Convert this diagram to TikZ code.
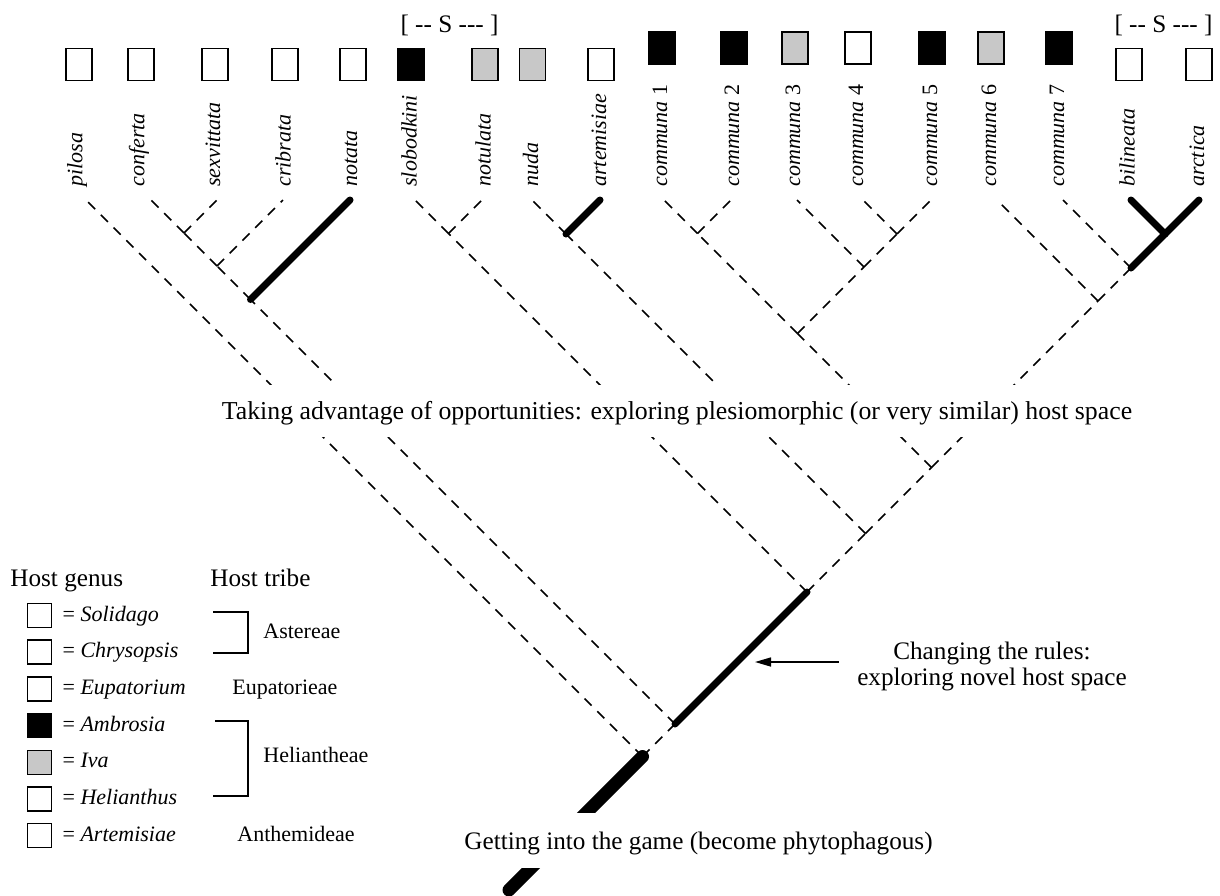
\documentclass[tikz,border=0pt]{standalone}
\usepackage{fontspec}
\setmainfont{Liberation Serif}
\usepackage{tikz}
\definecolor{ivagrey}{RGB}{200, 200, 200}
\usetikzlibrary{
  arrows.meta,
  positioning,
}
\tikzset{
  >={Triangle[length=8pt,width=4.5pt]},
  hostbox/.style={draw,rectangle,line width=0.75pt,minimum width=13pt,minimum height=16pt,inner sep=0pt},
  keybox/.style={draw,rectangle,line width=0.75pt,minimum width=12pt,minimum height=12pt,inner sep=0pt},
  taxon/.style={rotate=90,anchor=west,inner sep=0pt,font=\fontsize{11pt}{13pt}\selectfont\itshape},
  keytext/.style={inner sep=0pt,text height=8pt,text depth=2.5pt,font=\fontsize{11pt}{13pt}\selectfont},
  bigtext/.style={inner sep=0pt,font=\fontsize{12.6pt}{13pt}\selectfont},
  gaptext/.style={bigtext,fill=white,inner xsep=3pt},
  branch/.style={line width=0.75pt,dash pattern=on 5pt off 4pt},
  hostshift/.style={line width=3.5pt,line cap=round},
  rootline/.style={line width=6.5pt,line cap=round},
  bracket/.style={line width=0.75pt},
}

\begin{document}
\begin{tikzpicture}[x=0.5pt,y=-0.5pt,node distance=5.6pt and 5pt]
        \useasboundingbox (0,0) rectangle (1220,895);

        \node[hostbox]                 (pilosa-box)     at (79,64.5)   {};
        \node[hostbox]                 (conferta-box)   at (141,64.5)  {};
        \node[hostbox]                 (sexvittata-box) at (215,64.5)  {};
        \node[hostbox]                 (cribrata-box)   at (285,64.5)  {};
        \node[hostbox]                 (notata-box)     at (353,64.5)  {};
        \node[hostbox,fill=black]      (slobodkini-box) at (411,64.5)  {};
        \node[hostbox,fill=ivagrey]    (notulata-box)   at (485,64.5)  {};
        \node[hostbox,fill=ivagrey]    (nuda-box)       at (532.5,64.5) {};
        \node[hostbox]                 (artemisiae-box) at (601,64.5)  {};
        \node[hostbox,fill=black]      (c1-box)         at (662,48)    {};
        \node[hostbox,fill=black]      (c2-box)         at (734,48)    {};
        \node[hostbox,fill=ivagrey]    (c3-box)         at (795,48)    {};
        \node[hostbox]                 (c4-box)         at (858,48)    {};
        \node[hostbox,fill=black]      (c5-box)         at (932,48)    {};
        \node[hostbox,fill=ivagrey]    (c6-box)         at (991,48)    {};
        \node[hostbox,fill=black]      (c7-box)         at (1059,48)   {};
        \node[hostbox]                 (bilineata-box)  at (1129,64.5) {};
        \node[hostbox]                 (arctica-box)    at (1199,64.5) {};

        \node[bigtext] (s-left)  at (449.5,25)  {[ {-}{-} S {-}{-}{-} ]};
        \node[bigtext] (s-right) at (1163.5,25) {[ {-}{-} S {-}{-}{-} ]};

        \node[taxon] (pilosa)     at (77,187)    {pilosa};
        \node[taxon] (conferta)   at (139,187)   {conferta};
        \node[taxon] (sexvittata) at (213,187)   {sexvittata};
        \node[taxon] (cribrata)   at (283,187)   {cribrata};
        \node[taxon] (notata)     at (351,187)   {notata};
        \node[taxon] (slobodkini) at (409,187)   {slobodkini};
        \node[taxon] (notulata)   at (483,187)   {notulata};
        \node[taxon] (nuda)       at (530.5,187) {nuda};
        \node[taxon] (artemisiae) at (599,187)   {artemisiae};
        \node[taxon] (c1)         at (660,187)   {communa \upshape 1};
        \node[taxon] (c2)         at (732,187)   {communa \upshape 2};
        \node[taxon] (c3)         at (793,187)   {communa \upshape 3};
        \node[taxon] (c4)         at (856,187)   {communa \upshape 4};
        \node[taxon] (c5)         at (930,187)   {communa \upshape 5};
        \node[taxon] (c6)         at (989,187)   {communa \upshape 6};
        \node[taxon] (c7)         at (1057,187)  {communa \upshape 7};
        \node[taxon] (bilineata)  at (1127,187)  {bilineata};
        \node[taxon] (arctica)    at (1197,187)  {arctica};

        \coordinate (pilosa-tip)     at (86,200);
        \coordinate (conferta-tip)   at (151,200);
        \coordinate (sexvittata-tip) at (217,200);
        \coordinate (cribrata-tip)   at (283,200);
        \coordinate (notata-tip)     at (350,200);
        \coordinate (slobodkini-tip) at (415,200);
        \coordinate (notulata-tip)   at (482,200);
        \coordinate (nuda-tip)       at (532,200);
        \coordinate (artemisiae-tip) at (600,200);
        \coordinate (c1-tip)         at (664,200);
        \coordinate (c2-tip)         at (731,200);
        \coordinate (c3-tip)         at (797,200);
        \coordinate (c4-tip)         at (863,200);
        \coordinate (c5-tip)         at (931,200);
        \coordinate (c6-tip)         at (997,200);
        \coordinate (c7-tip)         at (1063,200);
        \coordinate (bilineata-tip)  at (1131,200);
        \coordinate (arctica-tip)    at (1199,200);

        \coordinate (cs)   at (184,233);
        \coordinate (csc)  at (217,266);
        \coordinate (cscn) at (250.5,299.5);
        \coordinate (sn)   at (448.5,233.5);
        \coordinate (na)   at (566,234);
        \coordinate (c12)  at (697.5,233.5);
        \coordinate (c45)  at (897,234);
        \coordinate (c345) at (864,267);
        \coordinate (c15)  at (797.5,333.5);
        \coordinate (ba)   at (1165,234);
        \coordinate (c7ba) at (1131,268);
        \coordinate (c6ba) at (1098,301);
        \coordinate (ce)   at (931.5,467.5);
        \coordinate (cd)   at (865.5,533.5);
        \coordinate (cc)   at (807,592);
        \coordinate (cb)   at (675,724);
        \coordinate (ca)   at (642.5,756.5);
        \coordinate (root) at (509,890);

        \draw[branch] (cs) -- (conferta-tip);
        \draw[branch] (cs) -- (sexvittata-tip);
        \draw[branch] (csc) -- (cs);
        \draw[branch] (csc) -- (cribrata-tip);
        \draw[branch] (cscn) -- (csc);
        \draw[hostshift] (cscn) -- (notata-tip);
        \draw[branch] (sn) -- (slobodkini-tip);
        \draw[branch] (sn) -- (notulata-tip);
        \draw[branch] (na) -- (nuda-tip);
        \draw[hostshift] (na) -- (artemisiae-tip);
        \draw[branch] (c12) -- (c1-tip);
        \draw[branch] (c12) -- (c2-tip);
        \draw[branch] (c45) -- (c4-tip);
        \draw[branch] (c45) -- (c5-tip);
        \draw[branch] (c345) -- (c3-tip);
        \draw[branch] (c345) -- (c45);
        \draw[branch] (c15) -- (c12);
        \draw[branch] (c15) -- (c345);
        \draw[hostshift] (ba) -- (bilineata-tip);
        \draw[hostshift] (ba) -- (arctica-tip);
        \draw[branch] (c7ba) -- (c7-tip);
        \draw[hostshift] (c7ba) -- (ba);
        \draw[branch] (c6ba) -- (c6-tip);
        \draw[branch] (c6ba) -- (c7ba);
        \draw[branch] (ce) -- (c15);
        \draw[branch] (ce) -- (c6ba);
        \draw[branch] (cd) -- (na);
        \draw[branch] (cd) -- (ce);
        \draw[branch] (cc) -- (sn);
        \draw[branch] (cc) -- (cd);
        \draw[branch] (cb) -- (cscn);
        \draw[hostshift] (cb) -- (cc);
        \draw[branch] (ca) -- (pilosa-tip);
        \draw[branch] (ca) -- (cb);
        \draw[rootline] (root) -- (ca);

        \node[gaptext,anchor=base,text height=17pt,text depth=9pt,font=\fontsize{12.9pt}{13pt}\selectfont] (plesio-note) at (677,419) {Taking advantage of opportunities: exploring plesiomorphic (or very similar) host space};
        \node[gaptext,anchor=base,text height=18pt,text depth=9.5pt] (game-note) at (698.5,849) {Getting into the game (become phytophagous)};

        \node[bigtext,align=center] (novel-note) at (992,666) {Changing the rules:\\exploring novel host space};
        \coordinate (novel-tip) at (755,662);
        \draw[->,line width=0.8pt] ([xshift=-9pt,yshift=2pt]novel-note.west) -- (novel-tip);

        \node[bigtext,anchor=base west] (genus-head) at (10,586)  {Host genus};
        \node[bigtext,anchor=base west] (tribe-head) at (210,586) {Host tribe};

        \node[keybox]              (solidago-key)   at (39.5,615.5) {};
        \node[keybox]              (chrysopsis-key) [below=of solidago-key]   {};
        \node[keybox]              (eupatorium-key) [below=of chrysopsis-key] {};
        \node[keybox,fill=black]   (ambrosia-key)   [below=of eupatorium-key] {};
        \node[keybox,fill=ivagrey] (iva-key)        [below=of ambrosia-key]   {};
        \node[keybox]              (helianthus-key) [below=of iva-key]        {};
        \node[keybox]              (artemisia-key)  [below=of helianthus-key] {};

        \node[keytext] (solidago-text)   [right=of solidago-key]   {= \textit{Solidago}};
        \node[keytext] (chrysopsis-text) [right=of chrysopsis-key] {= \textit{Chrysopsis}};
        \node[keytext] (eupatorium-text) [right=of eupatorium-key] {= \textit{Eupatorium}};
        \node[keytext] (ambrosia-text)   [right=of ambrosia-key]   {= \textit{Ambrosia}};
        \node[keytext] (iva-text)        [right=of iva-key]        {= \textit{Iva}};
        \node[keytext] (helianthus-text) [right=of helianthus-key] {= \textit{Helianthus}};
        \node[keytext] (artemisia-text)  [right=of artemisia-key]  {= \textit{Artemisiae}};

        \draw[bracket] (213,612) -| (248,653) -- (213,653);
        \draw[bracket] (215,721) -| (248,796) -- (213,796);

        \node[keytext,anchor=west] (astereae)    at (263,633) {Astereae};
        \node[keytext,anchor=west] (eupatorieae) at (232,689) {Eupatorieae};
        \node[keytext,anchor=west] (heliantheae) at (263,757) {Heliantheae};
        \node[keytext,anchor=west] (anthemideae) at (237,836) {Anthemideae};
    \end{tikzpicture}
\end{document}
